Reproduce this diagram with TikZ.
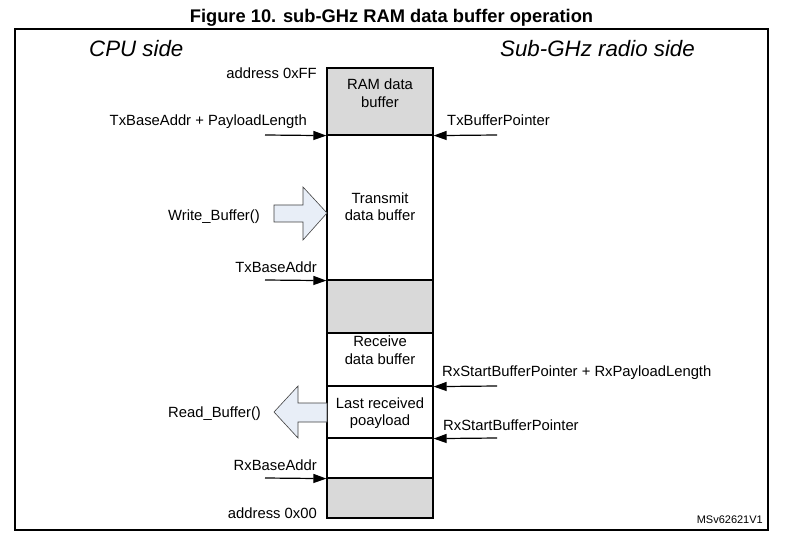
\documentclass[tikz,border=0pt]{standalone}
\usepackage{fontspec}
\setmainfont{Liberation Sans}
\usetikzlibrary{arrows.meta}
\definecolor{ramgray}{RGB}{217,217,217}
\definecolor{callblue}{RGB}{232,238,247}

\begin{document}
\begin{tikzpicture}[x=1pt,y=-1pt,
  txt/.style={inner sep=0pt,font=\fontsize{14.8}{17.5}\selectfont},
  sect/.style={draw,line width=1.2pt,minimum width=106pt,inner sep=0pt},
  ptr/.style={line width=1.2pt,-{Triangle[length=13pt,width=9pt]}},
  callarrow/.style={draw=black!75,fill=callblue,line width=0.6pt}]
\useasboundingbox (0,0) rectangle (794,537);
\node[inner sep=0pt,font=\fontsize{18.3}{22}\selectfont\bfseries,anchor=base] (title) at (391.5,23) {Figure 10. sub-GHz RAM data buffer operation};
\draw[line width=1.2pt] (15,29) rectangle (768,530);
\node[inner sep=0pt,font=\fontsize{22.3}{26}\selectfont\itshape,anchor=base west] (cpu) at (89,57) {CPU side};
\node[inner sep=0pt,font=\fontsize{22.3}{26}\selectfont\itshape,anchor=base west] (radio) at (500,57) {Sub-GHz radio side};

% the RAM column, top to bottom
\node[sect,fill=ramgray,minimum height=67pt] (ramtop) at (380,101.5) {};
\node[sect,minimum height=145pt] (txbuf) at (380,207.5) {};
\node[sect,fill=ramgray,minimum height=53pt] (gap) at (380,306.5) {};
\node[sect,minimum height=53pt] (rxbuf) at (380,359.5) {};
\node[sect,minimum height=52pt] (lastpl) at (380,412) {};
\node[sect,minimum height=40pt] (rxfree) at (380,458) {};
\node[sect,fill=ramgray,minimum height=40pt] (rxbottom) at (380,498) {};

\node[txt,align=center] (ramtxt) at (380,93.2) {RAM data\\buffer};
\node[txt,align=center] (txtxt) at (380,206.7) {Transmit\\data buffer};
\node[txt,align=center] (rxtxt) at (380,350.2) {Receive\\data buffer};
\node[txt,align=center] (lasttxt) at (380,413.3) {Last received\\poayload};

% CPU side
\node[txt,anchor=base east] (addrff) at (317,79) {address 0xFF};
\node[txt,anchor=base east] (txlen) at (307,126) {TxBaseAddr + PayloadLength};
\node[txt,anchor=base west] (wrbuf) at (168,221) {Write\_Buffer()};
\node[txt,anchor=base east] (txbase) at (317,272) {TxBaseAddr};
\node[txt,anchor=base west] (rdbuf) at (168,417) {Read\_Buffer()};
\node[txt,anchor=base east] (rxbase) at (317,470) {RxBaseAddr};
\node[txt,anchor=base east] (addr00) at (317,518) {address 0x00};

\coordinate (txlenend) at (265,135);
\coordinate (txbaseend) at (265,280);
\coordinate (rxbaseend) at (265,478);
\draw[ptr] (txlenend) -- (ramtop.south west);
\draw[ptr] (txbaseend) -- (txbuf.south west);
\draw[ptr] (rxbaseend) -- (rxfree.south west);

\draw[callarrow] (274,205) -- (303,205) -- (303,187) -- (327,213) -- (303,240) -- (303,222) -- (274,222) -- cycle;
\draw[callarrow] (327,403) -- (298,403) -- (298,386) -- (274,412) -- (298,438) -- (298,422) -- (327,422) -- cycle;

% radio side
\node[txt,anchor=base west] (txptr) at (447,126) {TxBufferPointer};
\node[txt,anchor=base west] (rxlen) at (442,376) {RxStartBufferPointer + RxPayloadLength};
\node[txt,anchor=base west] (rxptr) at (443,430) {RxStartBufferPointer};

\coordinate (txptrend) at (497,135);
\coordinate (rxlenend) at (497,386);
\coordinate (rxptrend) at (497,438);
\draw[ptr] (txptrend) -- (ramtop.south east);
\draw[ptr] (rxlenend) -- (rxbuf.south east);
\draw[ptr] (rxptrend) -- (lastpl.south east);

\node[inner sep=0pt,font=\fontsize{11}{13}\selectfont,anchor=base east] (msid) at (763,523) {MSv62621V1};
\end{tikzpicture}
\end{document}
